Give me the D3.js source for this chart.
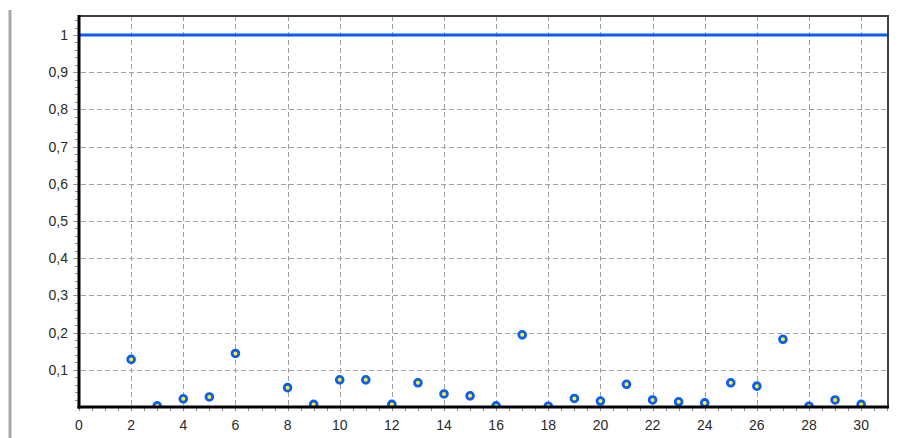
<!DOCTYPE html>
<html>
<head>
<meta charset="utf-8">
<script src="https://cdn.jsdelivr.net/npm/d3@7"></script>
<style>
  body { margin: 0; background: #fff; }
  svg { display: block; font-family: "Liberation Sans", Arial, sans-serif; }
</style>
</head>
<body>
<svg id="chart" width="903" height="438"></svg>
<script>
// data
const xs = [2, 3, 4, 5, 6, 8, 9, 10, 11, 12, 13, 14, 15, 16, 17, 18, 19, 20, 21, 22, 23, 24, 25, 26, 27, 28, 29, 30];
const ys = [0.128, 0.003, 0.022, 0.027, 0.144, 0.052, 0.007, 0.073, 0.073, 0.007, 0.065, 0.035, 0.030, 0.003, 0.194, 0.002, 0.023, 0.016, 0.061, 0.019, 0.014, 0.011, 0.065, 0.056, 0.182, 0.002, 0.019, 0.007];
const refLevel = 1;
const xTicks = d3.range(0, 31, 2);
const yTicks = [0.1, 0.2, 0.3, 0.4, 0.5, 0.6, 0.7, 0.8, 0.9, 1];

const svg = d3.select("#chart");
const pL = 79, pR = 888, pT = 16, pB = 407;

const x = d3.scaleLinear().domain([0, 31.03]).range([pL, pR]);
const y = d3.scaleLinear().domain([0, 1.051]).range([pB, pT]);

// left grey strip
svg.append("line")
    .attr("x1", 10).attr("x2", 10)
    .attr("y1", 10).attr("y2", 438)
    .attr("stroke", "#a8a8a8").attr("stroke-width", 3);

svg.append("defs").append("clipPath").attr("id", "plot")
    .append("rect")
    .attr("x", pL).attr("y", pT)
    .attr("width", pR - pL).attr("height", pB - pT);

// grid
svg.append("g").selectAll("line")
    .data(xTicks.filter(d => d > 0))
    .join("line")
    .attr("x1", d => Math.round(x(d)) + 0.5).attr("x2", d => Math.round(x(d)) + 0.5)
    .attr("y1", pT).attr("y2", pB)
    .attr("stroke", "#a0a0a0").attr("stroke-dasharray", "5,3");

svg.append("g").selectAll("line")
    .data(yTicks)
    .join("line")
    .attr("x1", pL - 6).attr("x2", pR)
    .attr("y1", d => Math.round(y(d)) + 0.5).attr("y2", d => Math.round(y(d)) + 0.5)
    .attr("stroke", "#a0a0a0").attr("stroke-dasharray", "5,3");

// minor ticks
svg.append("g").selectAll("line")
    .data(d3.range(0, 31.01, 0.5))
    .join("line")
    .attr("x1", d => Math.round(x(d)) + 0.5).attr("x2", d => Math.round(x(d)) + 0.5)
    .attr("y1", pB).attr("y2", pB + 4)
    .attr("stroke", "#909090");

svg.append("g").selectAll("line")
    .data(d3.range(0.02, 1.041, 0.02))
    .join("line")
    .attr("x1", pL - 4).attr("x2", pL)
    .attr("y1", d => Math.round(y(d)) + 0.5).attr("y2", d => Math.round(y(d)) + 0.5)
    .attr("stroke", "#909090");

// reference line and markers
const plot = svg.append("g").attr("clip-path", "url(#plot)");

plot.append("line")
    .attr("x1", pL).attr("x2", pR)
    .attr("y1", y(refLevel)).attr("y2", y(refLevel))
    .attr("stroke", "#0a5cff").attr("stroke-width", 3);

const pts = xs.map((d, i) => ({ x: d, y: ys[i] }));

plot.selectAll("circle.pt")
    .data(pts)
    .join("circle")
    .attr("class", "pt")
    .attr("cx", d => x(d.x)).attr("cy", d => y(d.y))
    .attr("r", 3.4)
    .attr("fill", "#ffff00")
    .attr("stroke", "#0a5cff").attr("stroke-width", 2.8);

// frame
svg.append("line")
    .attr("x1", pL).attr("x2", pR + 1)
    .attr("y1", pT).attr("y2", pT)
    .attr("stroke", "#404040").attr("stroke-width", 2);
svg.append("line")
    .attr("x1", pR).attr("x2", pR)
    .attr("y1", pT).attr("y2", pB)
    .attr("stroke", "#404040").attr("stroke-width", 2);
svg.append("line")
    .attr("x1", pL).attr("x2", pL)
    .attr("y1", pT - 1).attr("y2", pB + 1.5)
    .attr("stroke", "#000").attr("stroke-width", 3);
svg.append("line")
    .attr("x1", pL - 1.5).attr("x2", pR + 1)
    .attr("y1", pB).attr("y2", pB)
    .attr("stroke", "#000").attr("stroke-width", 3);

// labels
const fmt = d => d3.format("~g")(d).replace(".", ",");

svg.append("g").selectAll("text")
    .data(yTicks)
    .join("text")
    .attr("x", 68).attr("y", d => y(d))
    .attr("dy", "0.36em")
    .attr("text-anchor", "end")
    .attr("font-size", 14)
    .attr("fill", "#2a2a2a")
    .text(fmt);

svg.append("g").selectAll("text")
    .data(xTicks)
    .join("text")
    .attr("x", d => x(d)).attr("y", 430)
    .attr("text-anchor", "middle")
    .attr("font-size", 14)
    .attr("fill", "#2a2a2a")
    .text(fmt);
</script>
</body>
</html>
